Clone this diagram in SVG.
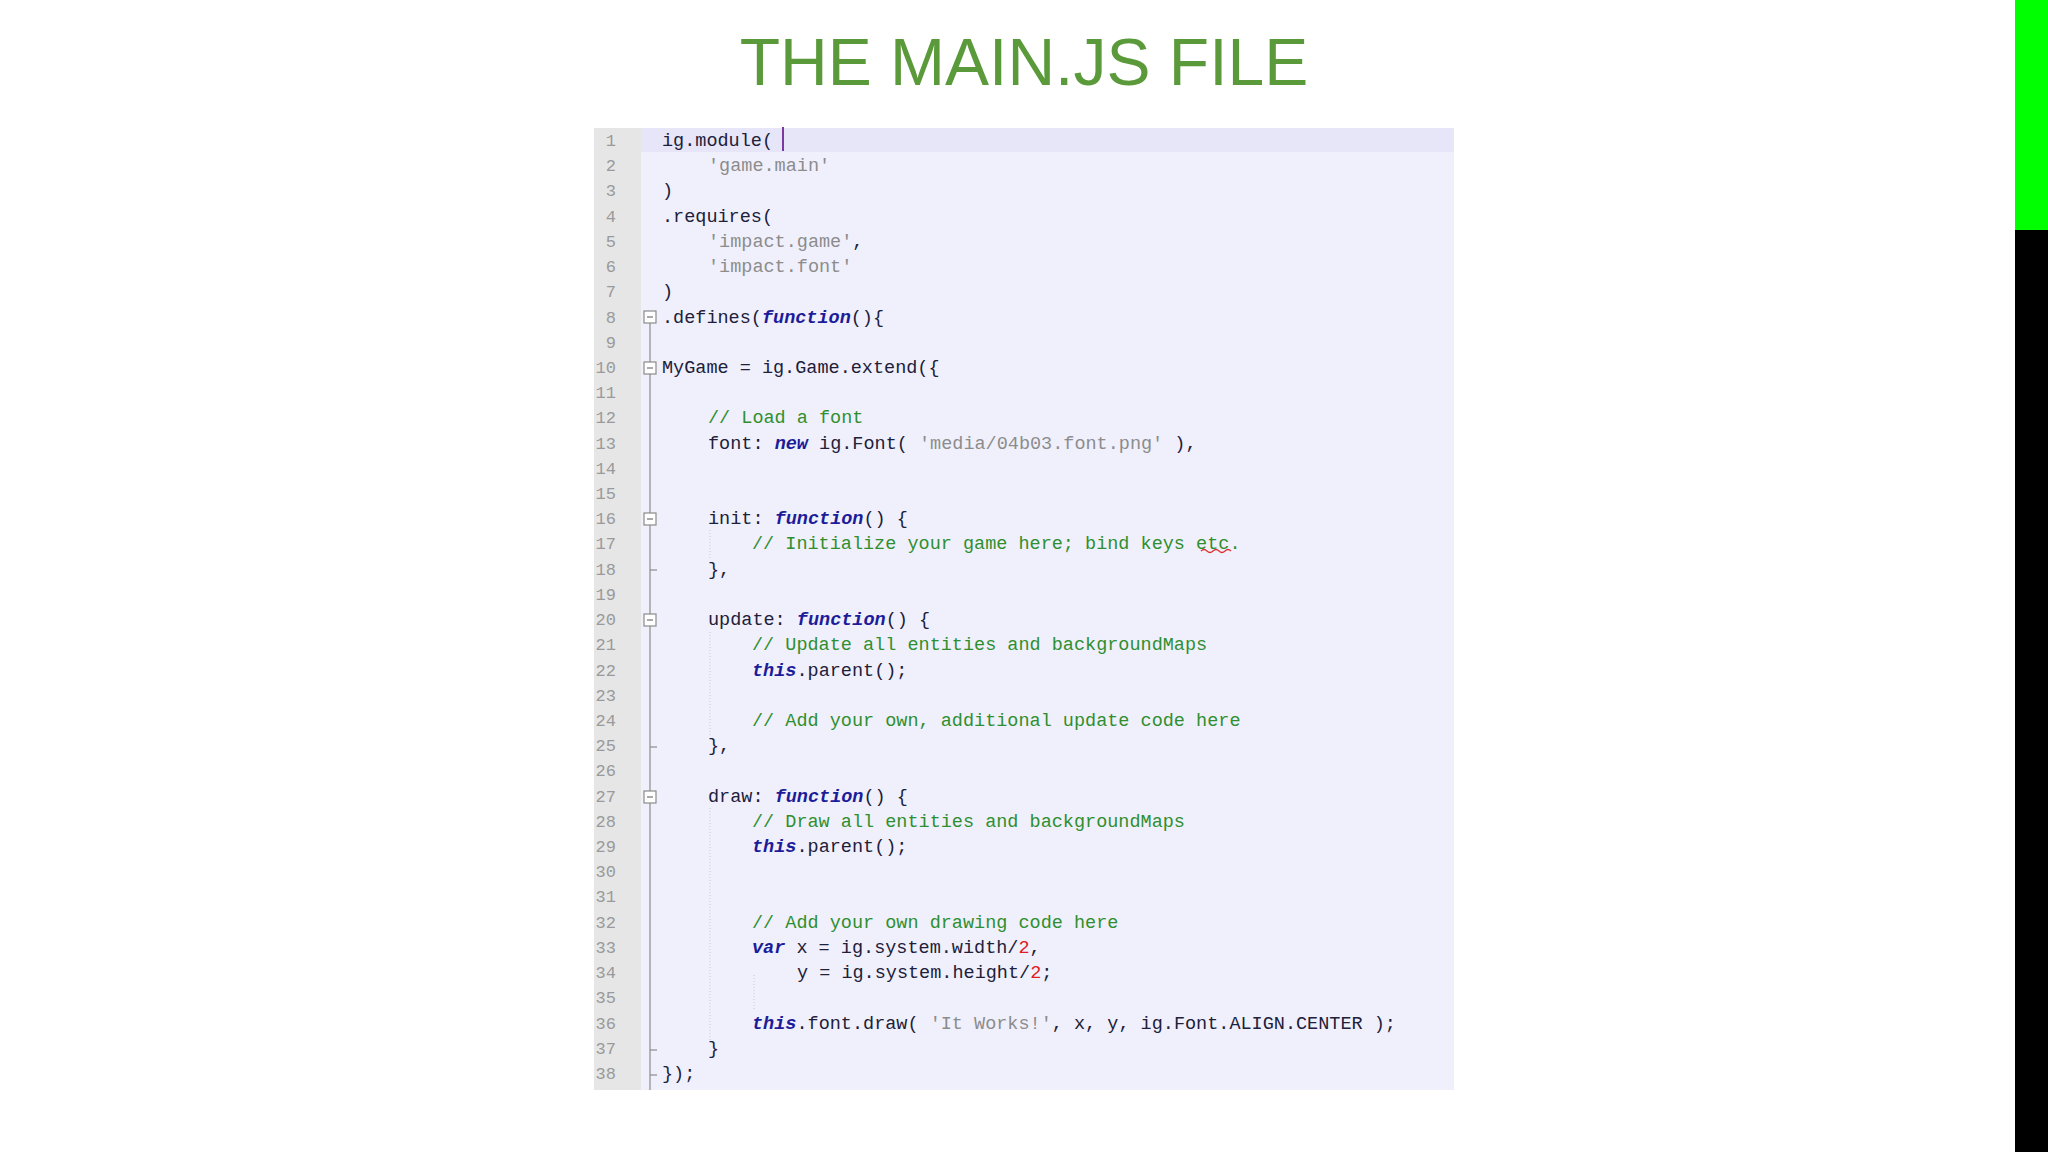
<svg xmlns="http://www.w3.org/2000/svg" width="2048" height="1152" viewBox="0 0 2048 1152">
<style>
.c{font-family:"Liberation Mono",monospace;font-size:18.5px;fill:#20203a;white-space:pre}
.n{font-family:"Liberation Mono",monospace;font-size:17px;fill:#9a9a9a;text-anchor:end}
.s{fill:#8c8c8c}.m{fill:#2f8f2f}.k{fill:#1c1c9a;font-style:italic;font-weight:bold}.r{fill:#e02020}
.fb{fill:#fff;stroke:#8a8a8a;stroke-width:1.2}
</style>
<rect width="2048" height="1152" fill="#fff"/>
<rect x="2015" y="0" width="33" height="230" fill="#00ff00"/>
<rect x="2015" y="230" width="33" height="922" fill="#000"/>
<text x="1024" y="85" text-anchor="middle" font-family="Liberation Sans,Arial,sans-serif" font-size="66" fill="#5a9a3a">THE MAIN.JS FILE</text>
<g id="editor">
<rect x="594" y="128" width="860" height="962" fill="#f0f0fc"/>
<rect x="641" y="128" width="813" height="24" fill="#e6e6f8"/>
<rect x="594" y="128" width="47" height="962" fill="#e6e6e6"/>
<line x1="783" y1="127" x2="783" y2="151" stroke="#7a3aa0" stroke-width="2"/>
<g stroke="#8a8a8a" stroke-width="1.2">
<line x1="650" y1="323" x2="650" y2="1090"/>
<line x1="650" y1="570" x2="657" y2="570"/><line x1="650" y1="747" x2="657" y2="747"/><line x1="650" y1="1050" x2="657" y2="1050"/><line x1="650" y1="1075" x2="657" y2="1075"/>
</g>
<g stroke="#c8c8c8" stroke-width="1" stroke-dasharray="1,2">
<line x1="710" y1="530" x2="710" y2="560"/><line x1="710" y1="632" x2="710" y2="735"/><line x1="710" y1="808" x2="710" y2="1040"/><line x1="754" y1="975" x2="754" y2="1010"/>
</g>
<rect class="fb" x="644" y="311" width="12" height="12"/><line x1="647" y1="317" x2="653" y2="317" stroke="#555"/>
<rect class="fb" x="644" y="362" width="12" height="12"/><line x1="647" y1="368" x2="653" y2="368" stroke="#555"/>
<rect class="fb" x="644" y="513" width="12" height="12"/><line x1="647" y1="519" x2="653" y2="519" stroke="#555"/>
<rect class="fb" x="644" y="614" width="12" height="12"/><line x1="647" y1="620" x2="653" y2="620" stroke="#555"/>
<rect class="fb" x="644" y="791" width="12" height="12"/><line x1="647" y1="797" x2="653" y2="797" stroke="#555"/>
<g>
<text class="n" x="616" y="146">1</text><text class="n" x="616" y="171">2</text><text class="n" x="616" y="196">3</text><text class="n" x="616" y="222">4</text><text class="n" x="616" y="247">5</text><text class="n" x="616" y="272">6</text><text class="n" x="616" y="297">7</text><text class="n" x="616" y="323">8</text><text class="n" x="616" y="348">9</text><text class="n" x="616" y="373">10</text><text class="n" x="616" y="398">11</text><text class="n" x="616" y="423">12</text><text class="n" x="616" y="449">13</text><text class="n" x="616" y="474">14</text><text class="n" x="616" y="499">15</text><text class="n" x="616" y="524">16</text><text class="n" x="616" y="549">17</text><text class="n" x="616" y="575">18</text><text class="n" x="616" y="600">19</text><text class="n" x="616" y="625">20</text><text class="n" x="616" y="650">21</text><text class="n" x="616" y="676">22</text><text class="n" x="616" y="701">23</text><text class="n" x="616" y="726">24</text><text class="n" x="616" y="751">25</text><text class="n" x="616" y="776">26</text><text class="n" x="616" y="802">27</text><text class="n" x="616" y="827">28</text><text class="n" x="616" y="852">29</text><text class="n" x="616" y="877">30</text><text class="n" x="616" y="902">31</text><text class="n" x="616" y="928">32</text><text class="n" x="616" y="953">33</text><text class="n" x="616" y="978">34</text><text class="n" x="616" y="1003">35</text><text class="n" x="616" y="1029">36</text><text class="n" x="616" y="1054">37</text><text class="n" x="616" y="1079">38</text>
</g>
<g>
<text class="c" x="662" y="146">ig.module(</text>
<text class="c s" x="708" y="171">'game.main'</text>
<text class="c" x="662" y="196">)</text>
<text class="c" x="662" y="222">.requires(</text>
<text class="c" x="708" y="247"><tspan class="s">'impact.game'</tspan>,</text>
<text class="c s" x="708" y="272">'impact.font'</text>
<text class="c" x="662" y="297">)</text>
<text class="c" x="662" y="323">.defines(<tspan class="k">function</tspan>(){</text>
<text class="c" x="662" y="373">MyGame = ig.Game.extend({</text>
<text class="c m" x="708" y="423">// Load a font</text>
<text class="c" x="708" y="449">font: <tspan class="k">new</tspan> ig.Font( <tspan class="s">'media/04b03.font.png'</tspan> ),</text>
<text class="c" x="708" y="524">init: <tspan class="k">function</tspan>() {</text>
<text class="c m" x="752" y="549">// Initialize your game here; bind keys etc.</text>
<text class="c" x="708" y="575">},</text>
<text class="c" x="708" y="625">update: <tspan class="k">function</tspan>() {</text>
<text class="c m" x="752" y="650">// Update all entities and backgroundMaps</text>
<text class="c" x="752" y="676"><tspan class="k">this</tspan>.parent();</text>
<text class="c m" x="752" y="726">// Add your own, additional update code here</text>
<text class="c" x="708" y="751">},</text>
<text class="c" x="708" y="802">draw: <tspan class="k">function</tspan>() {</text>
<text class="c m" x="752" y="827">// Draw all entities and backgroundMaps</text>
<text class="c" x="752" y="852"><tspan class="k">this</tspan>.parent();</text>
<text class="c m" x="752" y="928">// Add your own drawing code here</text>
<text class="c" x="752" y="953"><tspan class="k">var</tspan> x = ig.system.width/<tspan class="r">2</tspan>,</text>
<text class="c" x="797" y="978">y = ig.system.height/<tspan class="r">2</tspan>;</text>
<text class="c" x="752" y="1029"><tspan class="k">this</tspan>.font.draw( <tspan class="s">'It Works!'</tspan>, x, y, ig.Font.ALIGN.CENTER );</text>
<text class="c" x="708" y="1054">}</text>
<text class="c" x="662" y="1079">});</text>
</g>
<path d="M1201 551 q3 -3 6 0 t6 0 t6 0 t6 0 t6 0" fill="none" stroke="#e03030" stroke-width="1.2"/>
</g>
</svg>
